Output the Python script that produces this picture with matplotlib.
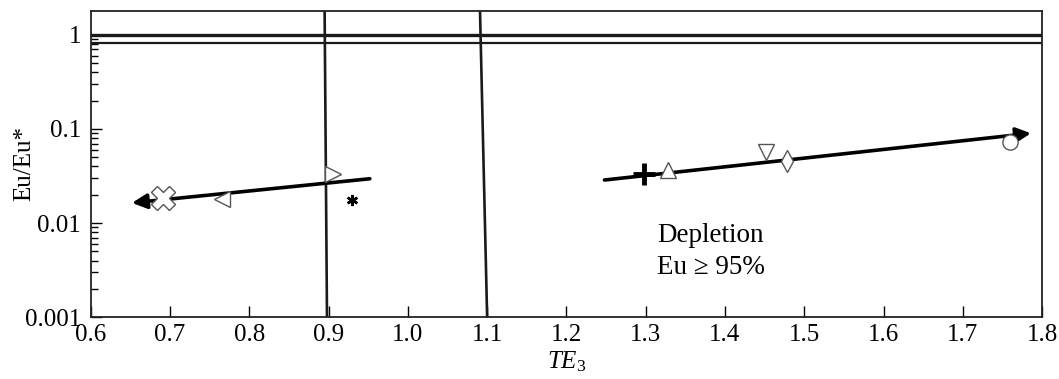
import matplotlib
matplotlib.use('Agg')
from matplotlib import pyplot as plt

plt.rcParams['font.family'] = ['Liberation Serif', 'DejaVu Serif']
plt.rcParams['mathtext.fontset'] = 'custom'
plt.rcParams['mathtext.rm'] = 'Liberation Serif'
plt.rcParams['mathtext.it'] = 'Liberation Serif:italic'

# sample points (TE3, Eu/Eu*)
pt_x = [0.691, 0.766, 0.906, 1.298, 1.328, 1.452, 1.478, 1.760]
pt_y = [0.0185, 0.018, 0.033, 0.0335, 0.037, 0.057, 0.046, 0.073]
pt_marker = ['X', '<', '>', 'P', '^', 'v', 'd', 'o']
star_x, star_y = 0.930, 0.0175

# trend arrows: (tail, head)
arrow_left = [(0.952, 0.0296), (0.652, 0.0164)]
arrow_right = [(1.248, 0.0287), (1.786, 0.090)]

# boundary lines
h_lines = [1.0, 0.82]
v_line1 = ([0.895, 0.898], [1.81, 0.001])
v_line2 = ([1.091, 1.100], [1.81, 0.001])

fig = plt.figure(figsize=(10.59, 3.79), dpi=100)
ax = fig.add_axes([0.0857, 0.163, 0.8983, 0.809])
ax.set_yscale('log')
ax.set_xlim(0.6, 1.8)
ax.set_ylim(0.001, 1.81)

ax.axhline(h_lines[0], color='#1a1a1a', lw=2.4)
ax.axhline(h_lines[1], color='#1a1a1a', lw=1.6)
ax.plot(*v_line1, color='#1a1a1a', lw=1.9)
ax.plot(*v_line2, color='#1a1a1a', lw=1.9)

for a in (arrow_left, arrow_right):
    ax.annotate('', xy=a[1], xytext=a[0],
                arrowprops=dict(arrowstyle='-|>', color='black', lw=2.6,
                                mutation_scale=22, shrinkA=0, shrinkB=0))

for x, y, m in zip(pt_x, pt_y, pt_marker):
    if m == 'P':
        ax.plot(x, y, marker='+', color='black', ms=16, mew=3.5, zorder=5)
    elif m == 'X':
        ax.plot(x, y, marker='X', mfc='white', mec='#555555', ms=17, mew=1.0, zorder=5)
    else:
        ax.plot(x, y, marker=m, mfc='white', mec='#555555', ms=11, mew=1.0, zorder=5)
ax.plot(star_x, star_y, marker=(6, 2, 0), color='black', ms=8, mew=1.8, zorder=5)

ax.text(1.382, 0.005, 'Depletion\nEu \u2265 95%', ha='center', va='center',
        fontsize=19.5, linespacing=1.35)

ax.set_xticks([0.6, 0.7, 0.8, 0.9, 1.0, 1.1, 1.2, 1.3, 1.4, 1.5, 1.6, 1.7, 1.8])
ax.set_xticklabels(['0.6', '0.7', '0.8', '0.9', '1.0', '1.1', '1.2', '1.3', '1.4',
                    '1.5', '1.6', '1.7', '1.8'])
ax.set_yticks([0.001, 0.01, 0.1, 1])
ax.set_yticklabels(['0.001', '0.01', '0.1', '1'])
ax.tick_params(axis='both', which='major', direction='in', length=8, width=1,
               labelsize=18, top=False, right=False)
ax.tick_params(axis='y', which='minor', direction='in', length=5, width=1, right=False)
ax.tick_params(axis='x', which='minor', bottom=False)
ax.tick_params(axis='x', pad=5)
ax.tick_params(axis='y', pad=7)

ax.set_xlabel('$TE_3$', fontsize=18, labelpad=2)
ax.set_ylabel('Eu/Eu*', fontsize=18)
ax.yaxis.set_label_coords(-0.058, 0.5)

for s in ax.spines.values():
    s.set_linewidth(1.3)
    s.set_color('#222222')

fig.savefig('out.png', dpi=100)
